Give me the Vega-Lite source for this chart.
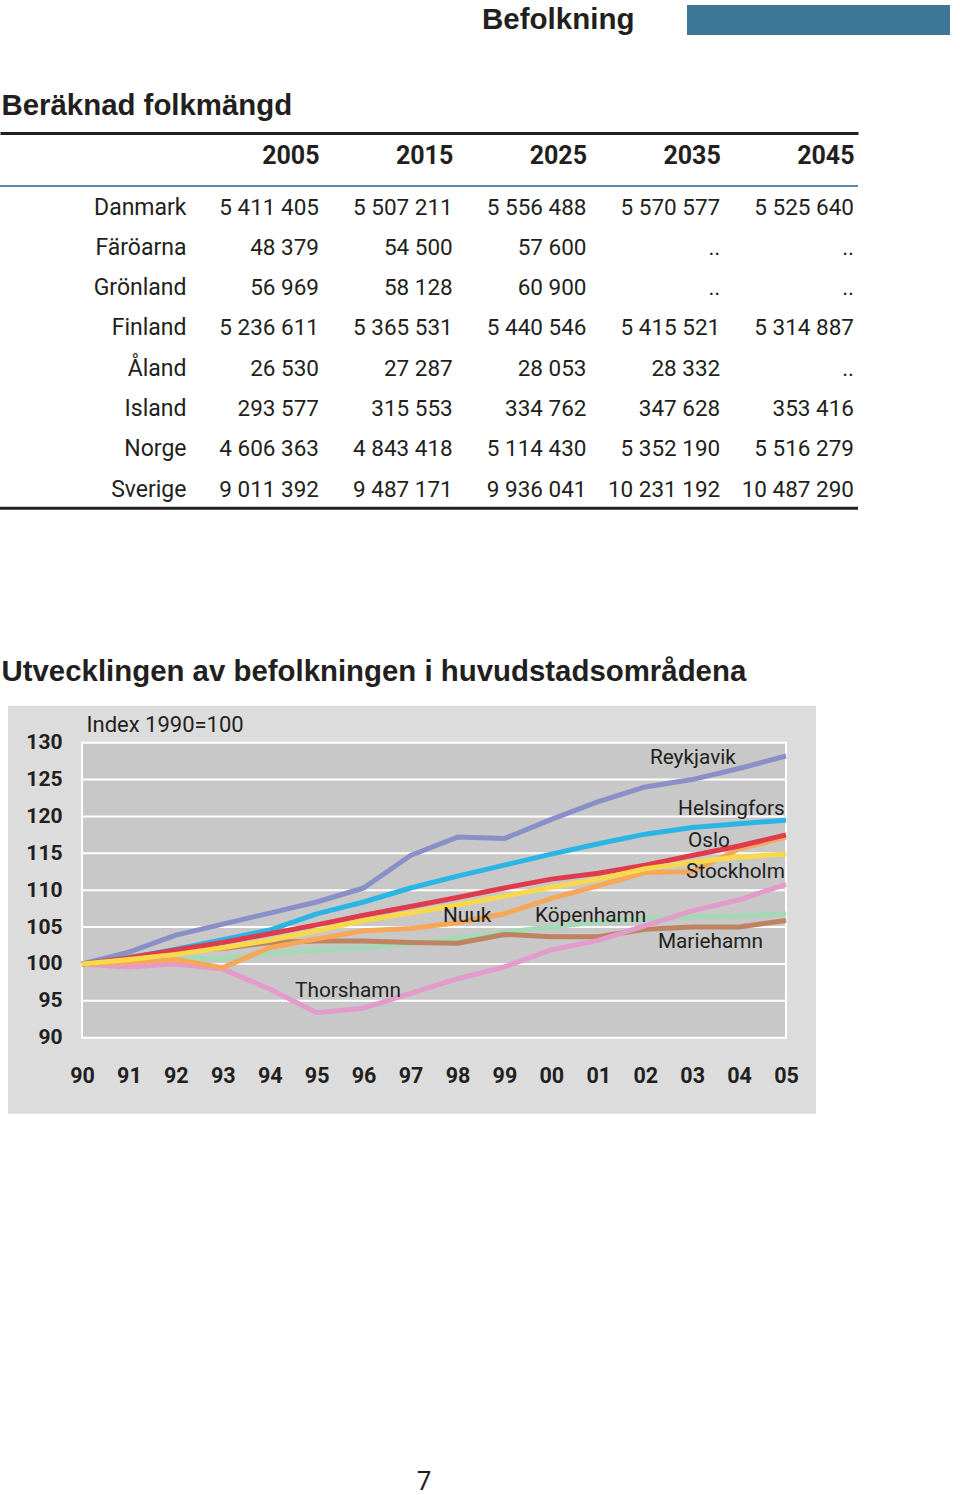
{
  "$schema": "https://vega.github.io/schema/vega-lite/v6.json",
  "background": "white",
  "padding": {"top": 5, "left": -2, "right": 0, "bottom": 0},
  "bounds": "flush",
  "spacing": 98,
  "config": {
    "locale": {"number": {"decimal": ",", "thousands": " ", "grouping": [3], "currency": ["", " kr"]}},
    "view": {"stroke": null},
    "font": "Roboto, sans-serif",
    "text": {"font": "Roboto, sans-serif", "color": "#231f20"},
    "title": {"font": "Liberation Sans, Arial, sans-serif", "fontWeight": "bold", "fontSize": 29.4, "color": "#231f20", "anchor": "start", "frame": "group"}
  },
  "datasets": {
    "folkmangd": [
      {"land": "Danmark", "år": "2005", "folkmängd": 5411405},
      {"land": "Danmark", "år": "2015", "folkmängd": 5507211},
      {"land": "Danmark", "år": "2025", "folkmängd": 5556488},
      {"land": "Danmark", "år": "2035", "folkmängd": 5570577},
      {"land": "Danmark", "år": "2045", "folkmängd": 5525640},
      {"land": "Färöarna", "år": "2005", "folkmängd": 48379},
      {"land": "Färöarna", "år": "2015", "folkmängd": 54500},
      {"land": "Färöarna", "år": "2025", "folkmängd": 57600},
      {"land": "Färöarna", "år": "2035", "folkmängd": null},
      {"land": "Färöarna", "år": "2045", "folkmängd": null},
      {"land": "Grönland", "år": "2005", "folkmängd": 56969},
      {"land": "Grönland", "år": "2015", "folkmängd": 58128},
      {"land": "Grönland", "år": "2025", "folkmängd": 60900},
      {"land": "Grönland", "år": "2035", "folkmängd": null},
      {"land": "Grönland", "år": "2045", "folkmängd": null},
      {"land": "Finland", "år": "2005", "folkmängd": 5236611},
      {"land": "Finland", "år": "2015", "folkmängd": 5365531},
      {"land": "Finland", "år": "2025", "folkmängd": 5440546},
      {"land": "Finland", "år": "2035", "folkmängd": 5415521},
      {"land": "Finland", "år": "2045", "folkmängd": 5314887},
      {"land": "Åland", "år": "2005", "folkmängd": 26530},
      {"land": "Åland", "år": "2015", "folkmängd": 27287},
      {"land": "Åland", "år": "2025", "folkmängd": 28053},
      {"land": "Åland", "år": "2035", "folkmängd": 28332},
      {"land": "Åland", "år": "2045", "folkmängd": null},
      {"land": "Island", "år": "2005", "folkmängd": 293577},
      {"land": "Island", "år": "2015", "folkmängd": 315553},
      {"land": "Island", "år": "2025", "folkmängd": 334762},
      {"land": "Island", "år": "2035", "folkmängd": 347628},
      {"land": "Island", "år": "2045", "folkmängd": 353416},
      {"land": "Norge", "år": "2005", "folkmängd": 4606363},
      {"land": "Norge", "år": "2015", "folkmängd": 4843418},
      {"land": "Norge", "år": "2025", "folkmängd": 5114430},
      {"land": "Norge", "år": "2035", "folkmängd": 5352190},
      {"land": "Norge", "år": "2045", "folkmängd": 5516279},
      {"land": "Sverige", "år": "2005", "folkmängd": 9011392},
      {"land": "Sverige", "år": "2015", "folkmängd": 9487171},
      {"land": "Sverige", "år": "2025", "folkmängd": 9936041},
      {"land": "Sverige", "år": "2035", "folkmängd": 10231192},
      {"land": "Sverige", "år": "2045", "folkmängd": 10487290}
    ],
    "index": [
      {"stad": "Köpenhamn", "år": 1990, "index": 100}, {"stad": "Köpenhamn", "år": 1991, "index": 100.4}, {"stad": "Köpenhamn", "år": 1992, "index": 100.8}, {"stad": "Köpenhamn", "år": 1993, "index": 100.7}, {"stad": "Köpenhamn", "år": 1994, "index": 101.4}, {"stad": "Köpenhamn", "år": 1995, "index": 101.9}, {"stad": "Köpenhamn", "år": 1996, "index": 102.2}, {"stad": "Köpenhamn", "år": 1997, "index": 102.7}, {"stad": "Köpenhamn", "år": 1998, "index": 103.5}, {"stad": "Köpenhamn", "år": 1999, "index": 104.3}, {"stad": "Köpenhamn", "år": 2000, "index": 105.0}, {"stad": "Köpenhamn", "år": 2001, "index": 105.7}, {"stad": "Köpenhamn", "år": 2002, "index": 106.2}, {"stad": "Köpenhamn", "år": 2003, "index": 106.4}, {"stad": "Köpenhamn", "år": 2004, "index": 106.5}, {"stad": "Köpenhamn", "år": 2005, "index": 106.8},
      {"stad": "Mariehamn", "år": 1990, "index": 100}, {"stad": "Mariehamn", "år": 1991, "index": 100.9}, {"stad": "Mariehamn", "år": 1992, "index": 101.8}, {"stad": "Mariehamn", "år": 1993, "index": 102.1}, {"stad": "Mariehamn", "år": 1994, "index": 102.9}, {"stad": "Mariehamn", "år": 1995, "index": 103.1}, {"stad": "Mariehamn", "år": 1996, "index": 103.1}, {"stad": "Mariehamn", "år": 1997, "index": 102.9}, {"stad": "Mariehamn", "år": 1998, "index": 102.8}, {"stad": "Mariehamn", "år": 1999, "index": 104.0}, {"stad": "Mariehamn", "år": 2000, "index": 103.7}, {"stad": "Mariehamn", "år": 2001, "index": 103.7}, {"stad": "Mariehamn", "år": 2002, "index": 104.7}, {"stad": "Mariehamn", "år": 2003, "index": 105.0}, {"stad": "Mariehamn", "år": 2004, "index": 105.0}, {"stad": "Mariehamn", "år": 2005, "index": 105.9},
      {"stad": "Thorshamn", "år": 1990, "index": 100}, {"stad": "Thorshamn", "år": 1991, "index": 99.6}, {"stad": "Thorshamn", "år": 1992, "index": 100.0}, {"stad": "Thorshamn", "år": 1993, "index": 99.3}, {"stad": "Thorshamn", "år": 1994, "index": 96.6}, {"stad": "Thorshamn", "år": 1995, "index": 93.4}, {"stad": "Thorshamn", "år": 1996, "index": 94.0}, {"stad": "Thorshamn", "år": 1997, "index": 96.0}, {"stad": "Thorshamn", "år": 1998, "index": 98.0}, {"stad": "Thorshamn", "år": 1999, "index": 99.6}, {"stad": "Thorshamn", "år": 2000, "index": 101.9}, {"stad": "Thorshamn", "år": 2001, "index": 103.2}, {"stad": "Thorshamn", "år": 2002, "index": 105.2}, {"stad": "Thorshamn", "år": 2003, "index": 107.2}, {"stad": "Thorshamn", "år": 2004, "index": 108.7}, {"stad": "Thorshamn", "år": 2005, "index": 110.8},
      {"stad": "Nuuk", "år": 1990, "index": 100}, {"stad": "Nuuk", "år": 1991, "index": 100.2}, {"stad": "Nuuk", "år": 1992, "index": 100.6}, {"stad": "Nuuk", "år": 1993, "index": 99.5}, {"stad": "Nuuk", "år": 1994, "index": 102.2}, {"stad": "Nuuk", "år": 1995, "index": 103.4}, {"stad": "Nuuk", "år": 1996, "index": 104.5}, {"stad": "Nuuk", "år": 1997, "index": 104.8}, {"stad": "Nuuk", "år": 1998, "index": 105.6}, {"stad": "Nuuk", "år": 1999, "index": 106.8}, {"stad": "Nuuk", "år": 2000, "index": 108.9}, {"stad": "Nuuk", "år": 2001, "index": 110.6}, {"stad": "Nuuk", "år": 2002, "index": 112.4}, {"stad": "Nuuk", "år": 2003, "index": 112.5}, {"stad": "Nuuk", "år": 2004, "index": 115.6}, {"stad": "Nuuk", "år": 2005, "index": 117.2},
      {"stad": "Reykjavik", "år": 1990, "index": 100}, {"stad": "Reykjavik", "år": 1991, "index": 101.6}, {"stad": "Reykjavik", "år": 1992, "index": 103.9}, {"stad": "Reykjavik", "år": 1993, "index": 105.4}, {"stad": "Reykjavik", "år": 1994, "index": 106.9}, {"stad": "Reykjavik", "år": 1995, "index": 108.4}, {"stad": "Reykjavik", "år": 1996, "index": 110.3}, {"stad": "Reykjavik", "år": 1997, "index": 114.7}, {"stad": "Reykjavik", "år": 1998, "index": 117.2}, {"stad": "Reykjavik", "år": 1999, "index": 117.0}, {"stad": "Reykjavik", "år": 2000, "index": 119.6}, {"stad": "Reykjavik", "år": 2001, "index": 122.0}, {"stad": "Reykjavik", "år": 2002, "index": 124.0}, {"stad": "Reykjavik", "år": 2003, "index": 125.0}, {"stad": "Reykjavik", "år": 2004, "index": 126.5}, {"stad": "Reykjavik", "år": 2005, "index": 128.2},
      {"stad": "Helsingfors", "år": 1990, "index": 100}, {"stad": "Helsingfors", "år": 1991, "index": 100.8}, {"stad": "Helsingfors", "år": 1992, "index": 102.0}, {"stad": "Helsingfors", "år": 1993, "index": 103.3}, {"stad": "Helsingfors", "år": 1994, "index": 104.6}, {"stad": "Helsingfors", "år": 1995, "index": 106.8}, {"stad": "Helsingfors", "år": 1996, "index": 108.4}, {"stad": "Helsingfors", "år": 1997, "index": 110.3}, {"stad": "Helsingfors", "år": 1998, "index": 111.9}, {"stad": "Helsingfors", "år": 1999, "index": 113.4}, {"stad": "Helsingfors", "år": 2000, "index": 114.9}, {"stad": "Helsingfors", "år": 2001, "index": 116.3}, {"stad": "Helsingfors", "år": 2002, "index": 117.6}, {"stad": "Helsingfors", "år": 2003, "index": 118.5}, {"stad": "Helsingfors", "år": 2004, "index": 119.0}, {"stad": "Helsingfors", "år": 2005, "index": 119.5},
      {"stad": "Oslo", "år": 1990, "index": 100}, {"stad": "Oslo", "år": 1991, "index": 100.8}, {"stad": "Oslo", "år": 1992, "index": 101.9}, {"stad": "Oslo", "år": 1993, "index": 102.9}, {"stad": "Oslo", "år": 1994, "index": 104.1}, {"stad": "Oslo", "år": 1995, "index": 105.3}, {"stad": "Oslo", "år": 1996, "index": 106.6}, {"stad": "Oslo", "år": 1997, "index": 107.8}, {"stad": "Oslo", "år": 1998, "index": 109.0}, {"stad": "Oslo", "år": 1999, "index": 110.3}, {"stad": "Oslo", "år": 2000, "index": 111.5}, {"stad": "Oslo", "år": 2001, "index": 112.3}, {"stad": "Oslo", "år": 2002, "index": 113.4}, {"stad": "Oslo", "år": 2003, "index": 114.7}, {"stad": "Oslo", "år": 2004, "index": 116.0}, {"stad": "Oslo", "år": 2005, "index": 117.5},
      {"stad": "Stockholm", "år": 1990, "index": 100}, {"stad": "Stockholm", "år": 1991, "index": 100.6}, {"stad": "Stockholm", "år": 1992, "index": 101.3}, {"stad": "Stockholm", "år": 1993, "index": 102.2}, {"stad": "Stockholm", "år": 1994, "index": 103.2}, {"stad": "Stockholm", "år": 1995, "index": 104.5}, {"stad": "Stockholm", "år": 1996, "index": 105.9}, {"stad": "Stockholm", "år": 1997, "index": 106.9}, {"stad": "Stockholm", "år": 1998, "index": 108.0}, {"stad": "Stockholm", "år": 1999, "index": 109.2}, {"stad": "Stockholm", "år": 2000, "index": 110.4}, {"stad": "Stockholm", "år": 2001, "index": 111.5}, {"stad": "Stockholm", "år": 2002, "index": 112.9}, {"stad": "Stockholm", "år": 2003, "index": 113.8}, {"stad": "Stockholm", "år": 2004, "index": 114.5}, {"stad": "Stockholm", "år": 2005, "index": 114.9}
    ],
    "etiketter": [
      {"stad": "Reykjavik", "år": 2002.10, "index": 127.97},
      {"stad": "Helsingfors", "år": 2002.70, "index": 121.05},
      {"stad": "Oslo", "år": 2002.91, "index": 116.71},
      {"stad": "Stockholm", "år": 2002.87, "index": 112.51},
      {"stad": "Nuuk", "år": 1997.69, "index": 106.54},
      {"stad": "Köpenhamn", "år": 1999.65, "index": 106.54},
      {"stad": "Mariehamn", "år": 2002.27, "index": 103.02},
      {"stad": "Thorshamn", "år": 1994.54, "index": 96.37}
    ],
    "rutnat": [
      {"indeks": 95}, {"indeks": 100}, {"indeks": 105}, {"indeks": 110}, {"indeks": 115}, {"indeks": 120}, {"indeks": 125}
    ]
  },
  "vconcat": [
    {
      "width": 960,
      "height": 30,
      "data": {"values": [{"avsnitt": "Befolkning"}]},
      "layer": [
        {
          "mark": {"type": "rect", "color": "#3f7799"},
          "encoding": {
            "x": {"datum": 0.7156, "type": "quantitative", "scale": {"domain": [0, 1], "nice": false, "zero": false}, "axis": null},
            "x2": {"datum": 0.9896}
          }
        },
        {
          "mark": {"type": "text", "align": "left", "baseline": "middle", "font": "Liberation Sans, Arial, sans-serif", "fontWeight": "bold", "fontSize": 29.5, "color": "#231f20"},
          "encoding": {
            "x": {"datum": 0.5021, "type": "quantitative", "scale": {"domain": [0, 1], "nice": false, "zero": false}, "axis": null},
            "text": {"field": "avsnitt"}
          }
        }
      ]
    },
    {
      "bounds": "flush",
      "spacing": 196.7,
      "vconcat": [
        {
          "width": 858,
          "height": 375.3,
          "title": {"text": "Beräknad folkmängd", "offset": 12, "dx": 1.5},
          "layer": [
            {
              "data": {"name": "folkmangd"},
              "mark": {"type": "text", "align": "right", "baseline": "middle", "fontSize": 22.5, "dy": 1.5},
              "encoding": {
                "x": {
                  "field": "år", "type": "nominal",
                  "scale": {"type": "point", "domain": ["land", "2005", "2015", "2025", "2035", "2045"], "padding": 0.7075, "align": 0.9789},
                  "axis": {"orient": "top", "values": ["2005", "2015", "2025", "2035", "2045"], "title": null, "domain": true, "domainColor": "#231f20", "domainWidth": 3, "ticks": false, "tickSize": 0, "labelPadding": -22, "labelBaseline": "middle", "labelAlign": "right", "labelAngle": 0, "labelFont": "Roboto, sans-serif", "labelFontWeight": "bold", "labelFontSize": 25, "labelColor": "#231f20", "grid": false, "labelOverlap": false}
                },
                "y": {
                  "field": "land", "type": "nominal",
                  "scale": {"type": "band", "domain": ["Danmark", "Färöarna", "Grönland", "Finland", "Åland", "Island", "Norge", "Sverige"], "paddingInner": 0, "paddingOuter": 0.6575, "align": 1},
                  "axis": {"orient": "left", "offset": -190, "title": null, "domain": false, "ticks": false, "labelPadding": 4, "labelOffset": 1.5, "labelFont": "Roboto, sans-serif", "labelFontSize": 23, "labelFontWeight": "normal", "labelColor": "#231f20", "labelAlign": "right", "labelBaseline": "middle", "grid": false}
                },
                "text": {"condition": {"test": "datum['folkmängd'] === null", "value": ".."}, "field": "folkmängd", "type": "quantitative", "format": ",d"}
              }
            },
            {
              "data": {"values": [{}]},
              "mark": {"type": "rule", "color": "#5d8ca8", "strokeWidth": 2},
              "encoding": {"y": {"datum": "Danmark", "type": "nominal", "bandPosition": 0}}
            },
            {
              "data": {"values": [{}]},
              "mark": {"type": "rule", "color": "#231f20", "strokeWidth": 3},
              "encoding": {"y": {"datum": "Sverige", "type": "nominal", "bandPosition": 1}}
            }
          ]
        },
        {
          "bounds": "flush",
          "spacing": 356,
          "vconcat": [
            {
              "width": 960,
              "height": 408,
              "title": {"text": "Utvecklingen av befolkningen i huvudstadsområdena", "offset": 18, "dx": 1.5},
              "layer": [
                {
                  "data": {"values": [{}]},
                  "mark": {"type": "rect", "color": "#dcdcdc"},
                  "encoding": {
                    "x": {"datum": 1988.4235, "type": "quantitative", "scale": {"domain": [1988.253, 2008.707], "nice": false, "zero": false},
                      "axis": {"orient": "bottom", "offset": -37, "values": [1990, 1991, 1992, 1993, 1994, 1995, 1996, 1997, 1998, 1999, 2000, 2001, 2002, 2003, 2004, 2005], "labelExpr": "substring(toString(datum.value), 2, 4)", "title": null, "labelFont": "Roboto, sans-serif", "labelFontWeight": "bold", "labelFontSize": 21.5, "labelColor": "#231f20", "labelPadding": 0, "labelBaseline": "middle", "ticks": false, "domain": false, "grid": false, "zindex": 1, "labelFlush": false, "labelOverlap": false}},
                    "x2": {"datum": 2005.64},
                    "y": {"datum": 79.695, "type": "quantitative", "scale": {"domain": [79.695, 135.017], "nice": false, "zero": false},
                      "axis": {"orient": "left", "offset": -64, "values": [90, 95, 100, 105, 110, 115, 120, 125, 130], "title": "Index 1990=100", "titleAngle": 0, "titleX": 22, "titleY": 19, "titleAlign": "left", "titleBaseline": "middle", "titleFont": "Roboto, sans-serif", "titleFontSize": 22, "titleFontWeight": "normal", "titleColor": "#231f20", "labelFont": "Roboto, sans-serif", "labelFontWeight": "bold", "labelFontSize": 21, "labelColor": "#231f20", "labelPadding": 2, "ticks": false, "domain": false, "grid": false, "zindex": 1, "labelOverlap": false, "labelFlush": false}},
                    "y2": {"datum": 135.017}
                  }
                },
                {
                  "data": {"values": [{}]},
                  "mark": {"type": "rect", "color": "#c8c8c8", "stroke": "white", "strokeWidth": 2},
                  "encoding": {
                    "x": {"datum": 1990, "type": "quantitative", "scale": {"domain": [1988.253, 2008.707], "nice": false, "zero": false},
                      "axis": {"orient": "bottom", "offset": -37, "values": [1990, 1991, 1992, 1993, 1994, 1995, 1996, 1997, 1998, 1999, 2000, 2001, 2002, 2003, 2004, 2005], "labelExpr": "substring(toString(datum.value), 2, 4)", "title": null, "labelFont": "Roboto, sans-serif", "labelFontWeight": "bold", "labelFontSize": 21.5, "labelColor": "#231f20", "labelPadding": 0, "labelBaseline": "middle", "ticks": false, "domain": false, "grid": false, "zindex": 1, "labelFlush": false, "labelOverlap": false}},
                    "x2": {"datum": 2005},
                    "y": {"datum": 90, "type": "quantitative", "scale": {"domain": [79.695, 135.017], "nice": false, "zero": false},
                      "axis": {"orient": "left", "offset": -64, "values": [90, 95, 100, 105, 110, 115, 120, 125, 130], "title": "Index 1990=100", "titleAngle": 0, "titleX": 22, "titleY": 19, "titleAlign": "left", "titleBaseline": "middle", "titleFont": "Roboto, sans-serif", "titleFontSize": 22, "titleFontWeight": "normal", "titleColor": "#231f20", "labelFont": "Roboto, sans-serif", "labelFontWeight": "bold", "labelFontSize": 21, "labelColor": "#231f20", "labelPadding": 2, "ticks": false, "domain": false, "grid": false, "zindex": 1, "labelOverlap": false, "labelFlush": false}},
                    "y2": {"datum": 130}
                  }
                },
                {
                  "data": {"name": "rutnat"},
                  "mark": {"type": "rule", "color": "white", "strokeWidth": 2},
                  "encoding": {
                    "x": {"datum": 1990, "type": "quantitative", "scale": {"domain": [1988.253, 2008.707], "nice": false, "zero": false},
                      "axis": {"orient": "bottom", "offset": -37, "values": [1990, 1991, 1992, 1993, 1994, 1995, 1996, 1997, 1998, 1999, 2000, 2001, 2002, 2003, 2004, 2005], "labelExpr": "substring(toString(datum.value), 2, 4)", "title": null, "labelFont": "Roboto, sans-serif", "labelFontWeight": "bold", "labelFontSize": 21.5, "labelColor": "#231f20", "labelPadding": 0, "labelBaseline": "middle", "ticks": false, "domain": false, "grid": false, "zindex": 1, "labelFlush": false, "labelOverlap": false}},
                    "x2": {"datum": 2005},
                    "y": {"field": "indeks", "type": "quantitative", "scale": {"domain": [79.695, 135.017], "nice": false, "zero": false},
                      "axis": {"orient": "left", "offset": -64, "values": [90, 95, 100, 105, 110, 115, 120, 125, 130], "title": "Index 1990=100", "titleAngle": 0, "titleX": 22, "titleY": 19, "titleAlign": "left", "titleBaseline": "middle", "titleFont": "Roboto, sans-serif", "titleFontSize": 22, "titleFontWeight": "normal", "titleColor": "#231f20", "labelFont": "Roboto, sans-serif", "labelFontWeight": "bold", "labelFontSize": 21, "labelColor": "#231f20", "labelPadding": 2, "ticks": false, "domain": false, "grid": false, "zindex": 1, "labelOverlap": false, "labelFlush": false}}
                  }
                },
                {
                  "data": {"name": "index"},
                  "mark": {"type": "line", "strokeWidth": 5, "strokeJoin": "round"},
                  "encoding": {
                    "x": {"field": "år", "type": "quantitative", "scale": {"domain": [1988.253, 2008.707], "nice": false, "zero": false},
                      "axis": {"orient": "bottom", "offset": -37, "values": [1990, 1991, 1992, 1993, 1994, 1995, 1996, 1997, 1998, 1999, 2000, 2001, 2002, 2003, 2004, 2005], "labelExpr": "substring(toString(datum.value), 2, 4)", "title": null, "labelFont": "Roboto, sans-serif", "labelFontWeight": "bold", "labelFontSize": 21.5, "labelColor": "#231f20", "labelPadding": 0, "labelBaseline": "middle", "ticks": false, "domain": false, "grid": false, "zindex": 1, "labelFlush": false, "labelOverlap": false}},
                    "y": {"field": "index", "type": "quantitative", "scale": {"domain": [79.695, 135.017], "nice": false, "zero": false},
                      "axis": {"orient": "left", "offset": -64, "values": [90, 95, 100, 105, 110, 115, 120, 125, 130], "title": "Index 1990=100", "titleAngle": 0, "titleX": 22, "titleY": 19, "titleAlign": "left", "titleBaseline": "middle", "titleFont": "Roboto, sans-serif", "titleFontSize": 22, "titleFontWeight": "normal", "titleColor": "#231f20", "labelFont": "Roboto, sans-serif", "labelFontWeight": "bold", "labelFontSize": 21, "labelColor": "#231f20", "labelPadding": 2, "ticks": false, "domain": false, "grid": false, "zindex": 1, "labelOverlap": false, "labelFlush": false}},
                    "color": {
                      "field": "stad", "type": "nominal", "legend": null,
                      "scale": {"domain": ["Köpenhamn", "Mariehamn", "Thorshamn", "Nuuk", "Reykjavik", "Helsingfors", "Oslo", "Stockholm"], "range": ["#a3d9b5", "#bf8361", "#e39bcb", "#f6a75a", "#8990c8", "#2ab5e5", "#e03b4c", "#f9d94c"]}
                    }
                  }
                },
                {
                  "data": {"name": "etiketter"},
                  "mark": {"type": "text", "align": "left", "baseline": "middle", "fontSize": 20.8, "color": "#231f20"},
                  "encoding": {
                    "x": {"field": "år", "type": "quantitative", "scale": {"domain": [1988.253, 2008.707], "nice": false, "zero": false},
                      "axis": {"orient": "bottom", "offset": -37, "values": [1990, 1991, 1992, 1993, 1994, 1995, 1996, 1997, 1998, 1999, 2000, 2001, 2002, 2003, 2004, 2005], "labelExpr": "substring(toString(datum.value), 2, 4)", "title": null, "labelFont": "Roboto, sans-serif", "labelFontWeight": "bold", "labelFontSize": 21.5, "labelColor": "#231f20", "labelPadding": 0, "labelBaseline": "middle", "ticks": false, "domain": false, "grid": false, "zindex": 1, "labelFlush": false, "labelOverlap": false}},
                    "y": {"field": "index", "type": "quantitative", "scale": {"domain": [79.695, 135.017], "nice": false, "zero": false},
                      "axis": {"orient": "left", "offset": -64, "values": [90, 95, 100, 105, 110, 115, 120, 125, 130], "title": "Index 1990=100", "titleAngle": 0, "titleX": 22, "titleY": 19, "titleAlign": "left", "titleBaseline": "middle", "titleFont": "Roboto, sans-serif", "titleFontSize": 22, "titleFontWeight": "normal", "titleColor": "#231f20", "labelFont": "Roboto, sans-serif", "labelFontWeight": "bold", "labelFontSize": 21, "labelColor": "#231f20", "labelPadding": 2, "ticks": false, "domain": false, "grid": false, "zindex": 1, "labelOverlap": false, "labelFlush": false}},
                    "text": {"field": "stad"}
                  }
                }
              ]
            },
            {
              "width": 848,
              "height": 24,
              "data": {"values": [{"sida": "7"}]},
              "mark": {"type": "text", "baseline": "middle", "fontSize": 26, "color": "#231f20"},
              "encoding": {"text": {"field": "sida"}}
            }
          ]
        }
      ]
    }
  ]
}
